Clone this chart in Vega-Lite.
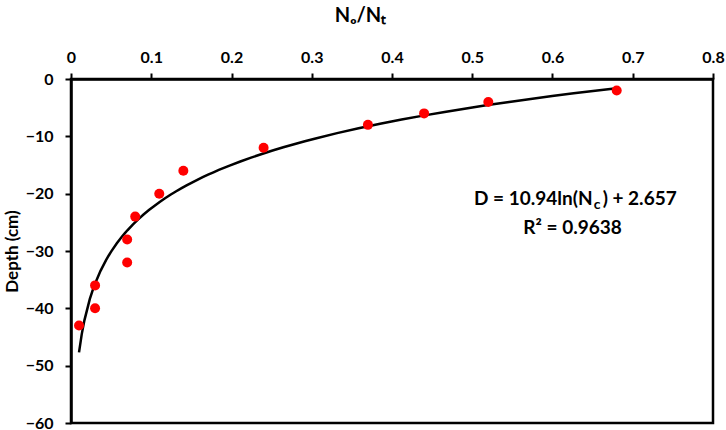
{
  "$schema": "https://vega.github.io/schema/vega-lite/v6.json",
  "autosize": "none",
  "width": 642,
  "height": 344,
  "padding": {"left": 71, "top": 79, "right": 13, "bottom": 7},
  "background": "white",
  "config": {
    "font": "Lato",
    "view": {"stroke": "black", "strokeWidth": 2.5},
    "axis": {
      "grid": false,
      "domainColor": "black",
      "domainWidth": 2.5,
      "tickColor": "black",
      "tickWidth": 2,
      "tickSize": 6,
      "labelFont": "Lato",
      "labelFontWeight": "bold",
      "labelFontSize": 16,
      "labelColor": "black",
      "titleFont": "Lato",
      "titleFontWeight": "bold",
      "titleColor": "black"
    }
  },
  "datasets": {
    "pts": [
      {"x": 0.01, "y": -43},
      {"x": 0.03, "y": -36},
      {"x": 0.03, "y": -40},
      {"x": 0.07, "y": -28},
      {"x": 0.07, "y": -32},
      {"x": 0.08, "y": -24},
      {"x": 0.11, "y": -20},
      {"x": 0.14, "y": -16},
      {"x": 0.24, "y": -12},
      {"x": 0.37, "y": -8},
      {"x": 0.44, "y": -6},
      {"x": 0.52, "y": -4},
      {"x": 0.68, "y": -2}
    ],
    "eq1": [{"t": "D = 10.94ln(N"}],
    "eq2": [{"t": "c"}],
    "eq3": [{"t": ") + 2.657"}],
    "eq4": [{"t": "R² = 0.9638"}]
  },
  "layer": [
    {
      "data": {"name": "pts"},
      "transform": [{"regression": "y", "on": "x", "method": "log"}],
      "mark": {"type": "line", "color": "black", "strokeWidth": 2.5},
      "encoding": {
        "x": {
          "field": "x",
          "type": "quantitative",
          "scale": {"domain": [0, 0.8], "nice": false, "zero": false},
          "axis": {
            "orient": "top",
            "values": [0, 0.1, 0.2, 0.3, 0.4, 0.5, 0.6, 0.7, 0.8],
            "format": "~g",
            "labelPadding": 8,
            "labelFlush": false,
            "title": "Nₒ/Nₜ",
            "titleFontSize": 20,
            "titleX": 289,
            "titleY": -58,
            "titleAlign": "center",
            "titleBaseline": "alphabetic",
            "titleAnchor": null
          }
        },
        "y": {
          "field": "y",
          "type": "quantitative",
          "scale": {"domain": [-60, 0], "nice": false, "zero": false},
          "axis": {
            "values": [-60, -50, -40, -30, -20, -10, 0],
            "labelPadding": 12,
            "labelFlush": false,
            "title": "Depth (cm)",
            "titleFontSize": 17,
            "titlePadding": 4
          }
        }
      }
    },
    {
      "data": {"name": "pts"},
      "mark": {"type": "circle", "color": "#FF0000", "opacity": 1, "size": 100},
      "encoding": {
        "x": {"field": "x", "type": "quantitative"},
        "y": {"field": "y", "type": "quantitative"}
      }
    },
    {
      "data": {"name": "eq1"},
      "mark": {"type": "text", "align": "right", "baseline": "alphabetic", "font": "Lato", "fontWeight": "bold", "fontSize": 19, "color": "black"},
      "encoding": {"x": {"datum": 0.65, "type": "quantitative"}, "y": {"datum": -22.0, "type": "quantitative"}, "text": {"field": "t", "type": "nominal"}}
    },
    {
      "data": {"name": "eq2"},
      "mark": {"type": "text", "align": "left", "baseline": "alphabetic", "dx": 1, "dy": 4, "font": "Lato", "fontWeight": "bold", "fontSize": 14, "color": "black"},
      "encoding": {"x": {"datum": 0.65, "type": "quantitative"}, "y": {"datum": -22.0, "type": "quantitative"}, "text": {"field": "t", "type": "nominal"}}
    },
    {
      "data": {"name": "eq3"},
      "mark": {"type": "text", "align": "left", "baseline": "alphabetic", "dx": 10, "font": "Lato", "fontWeight": "bold", "fontSize": 19, "color": "black"},
      "encoding": {"x": {"datum": 0.65, "type": "quantitative"}, "y": {"datum": -22.0, "type": "quantitative"}, "text": {"field": "t", "type": "nominal"}}
    },
    {
      "data": {"name": "eq4"},
      "mark": {"type": "text", "align": "center", "baseline": "alphabetic", "font": "Lato", "fontWeight": "bold", "fontSize": 19, "color": "black"},
      "encoding": {"x": {"datum": 0.625, "type": "quantitative"}, "y": {"datum": -27.0, "type": "quantitative"}, "text": {"field": "t", "type": "nominal"}}
    }
  ]
}
